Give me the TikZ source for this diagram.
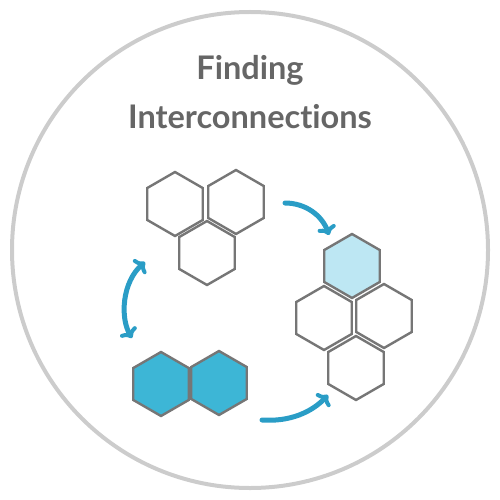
\documentclass[tikz,border=0pt]{standalone}
\usepackage{fontspec}
\setmainfont{Lato}[Ligatures={NoCommon}]
\usetikzlibrary{shapes.geometric,arrows.meta}
\definecolor{ringgray}{HTML}{CCCCCC}
\definecolor{hexgray}{HTML}{767676}
\definecolor{txtgray}{HTML}{666666}
\definecolor{deepblue}{HTML}{3DB6D6}
\definecolor{paleblue}{HTML}{BDE7F3}
\definecolor{arrowblue}{HTML}{2A9DC6}
\begin{document}
\begin{tikzpicture}[x=1pt,y=-1pt,
  hexa/.style={regular polygon,regular polygon sides=6,rotate=30,minimum size=64pt,inner sep=0pt,outer sep=0pt,draw=hexgray,line width=2.4pt,fill=white},
  bluehex/.style={hexa,fill=deepblue},
  palehex/.style={hexa,fill=paleblue},
  title/.style={text=txtgray,font=\fontsize{32.5}{38}\selectfont\bfseries},
  flow/.style={draw=arrowblue,line width=5pt,line cap=round,-{Computer Modern Rightarrow[length=9pt,width=19pt,line width=4pt]}},
  flowboth/.style={flow,{Computer Modern Rightarrow[length=9pt,width=19pt,line width=4pt]}-{Computer Modern Rightarrow[length=9pt,width=19pt,line width=4pt]}}]
\useasboundingbox (0,0) rectangle (500,500);
\draw[ringgray,line width=4pt] (250,250) circle (238);
\node[title] (t1) at (250,70) {Finding};
\node[title] (t2) at (250,117) {Interconnect\kern0pt ions};
% top group
\node[hexa] (h1) at (175,204) {};
\node[hexa] (h2) at (236,202) {};
\node[hexa] (h3) at (207,253) {};
% right group
\node[palehex] (r1) at (352,266) {};
\node[hexa] (r2) at (324,318) {};
\node[hexa] (r3) at (384,316) {};
\node[hexa] (r4) at (356,368) {};
% blue pair
\node[bluehex] (b1) at (161,384) {};
\node[bluehex] (b2) at (219,383) {};
% arrows
\coordinate (a1s) at (285,203);
\coordinate (a1e) at (329,235);
\coordinate (a2s) at (145,262);
\coordinate (a2e) at (132,338);
\coordinate (a3s) at (262,420);
\coordinate (a3e) at (328,395);
\draw[flow] (a1s) .. controls (305,203) and (322,215) .. (a1e);
\draw[flowboth] (a2s) .. controls (122,282) and (120,318) .. (a2e);
\draw[flow] (a3s) .. controls (290,422) and (312,412) .. (a3e);
\end{tikzpicture}
\end{document}
